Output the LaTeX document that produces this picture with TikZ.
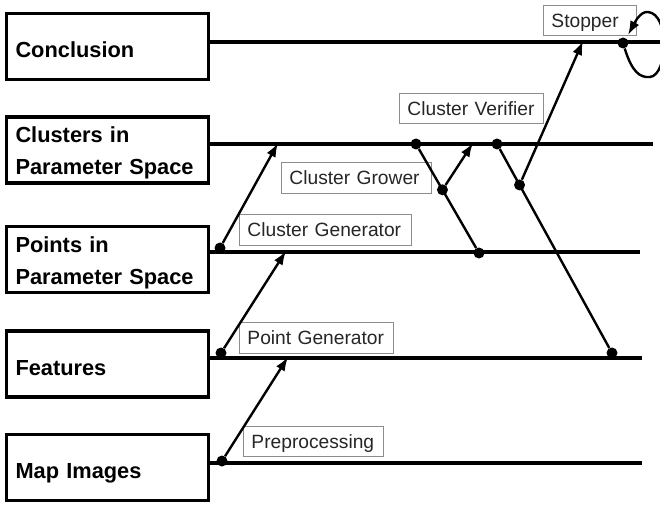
\documentclass[tikz,border=0pt]{standalone}
\usepackage{fontspec}
\setmainfont{Liberation Sans}
\usetikzlibrary{arrows.meta}
\begin{document}
\begin{tikzpicture}[x=1pt,y=-1pt,
  bigbox/.style={draw, line width=3.2pt, minimum width=202pt, minimum height=66pt, inner xsep=9pt, text width=184pt, align=left, text height=22pt, font=\fontsize{21.8}{32}\selectfont\bfseries},
  oneline/.style={text depth=0pt},
  hline/.style={line width=3.6pt},
  lab/.style={draw=black!45, line width=0.9pt, fill=white, anchor=north west, inner xsep=8pt, inner ysep=0pt, minimum height=30pt, align=left, text height=14pt, text depth=0pt, font=\fontsize{19.2}{23}\selectfont, text=black!85},
  dot/.style={circle, fill, inner sep=0pt, minimum size=11pt},
  conn/.style={line width=2.4pt},
  arr/.style={conn, -{Latex[length=14pt,width=10pt]}},
]
\useasboundingbox (0,0) rectangle (660,505);
\clip (0,0) rectangle (660,505);

% level boxes
\node[bigbox, oneline] (concl) at (107.5,46.5) {Conclusion};
\node[bigbox] (clus) at (107.5,150) {Clusters in\\Parameter Space};
\node[bigbox] (pts) at (107.5,259.5) {Points in\\Parameter Space};
\node[bigbox, oneline] (feat) at (107.5,364) {Features};
\node[bigbox, oneline] (map) at (107.5,467.5) {Map Images};

% level lines
\coordinate (conclE) at (662,42);
\coordinate (clusE) at (653,144);
\coordinate (ptsE) at (640,252);
\coordinate (featE) at (642,358);
\coordinate (mapE) at (642,463);
\draw[hline] (conclE -| concl.east) -- (conclE);
\draw[hline] (clusE -| clus.east) -- (clusE);
\draw[hline] (ptsE -| pts.east) -- (ptsE);
\draw[hline] (featE -| feat.east) -- (featE);
\draw[hline] (mapE -| map.east) -- (mapE);

% labels
\node[lab, text width=77pt] (stopL) at (543,5) {Stopper};
\node[lab, text width=128pt] (verL) at (399,93) {Cluster Verifier};
\node[lab, text width=134pt, minimum height=31pt] (growL) at (281,162) {Cluster Grower};
\node[lab, text width=156pt, minimum height=31pt] (genL) at (239,214) {Cluster Generator};
\node[lab, text width=138pt, minimum height=31pt] (pgL) at (239,322) {Point Generator};
\node[lab, text width=124pt] (preL) at (243,426) {Preprocessing};

% Preprocessing
\node[dot] (preD) at (222,461) {};
\coordinate (preT) at (288,357);
\draw[arr] (preD) -- (preT);

% Point Generator
\node[dot] (pgD) at (221,353) {};
\coordinate (pgT) at (286,251);
\draw[arr] (pgD) -- (pgT);

% Cluster Generator
\node[dot] (cgD) at (220,248) {};
\coordinate (cgT) at (278,143);
\draw[arr] (cgD) -- (cgT);

% Cluster Grower
\node[dot] (grA) at (416,144) {};
\node[dot] (grB) at (479,253) {};
\draw[conn] (grA) -- (grB);
\path (grA.center) -- (grB.center) node[dot, pos=0.42] (grC) {};
\coordinate (grT) at (473,143);
\draw[arr] (grC) -- (grT);

% Cluster Verifier
\node[dot] (veA) at (497,144) {};
\node[dot] (veB) at (612,353) {};
\draw[conn] (veA) -- (veB);
\path (veA.center) -- (veB.center) node[dot, pos=0.196] (veC) {};
\coordinate (veT) at (583,41);
\draw[arr] (veC) -- (veT);

% Stopper loop
\node[dot] (stD) at (623,43) {};
\draw[arr] (stD) .. controls (632,72) and (640,78) .. (650,77)
  .. controls (668,75) and (670,14) .. (648,12)
  .. controls (640,11) and (634,24) .. (628,35);
\end{tikzpicture}
\end{document}
